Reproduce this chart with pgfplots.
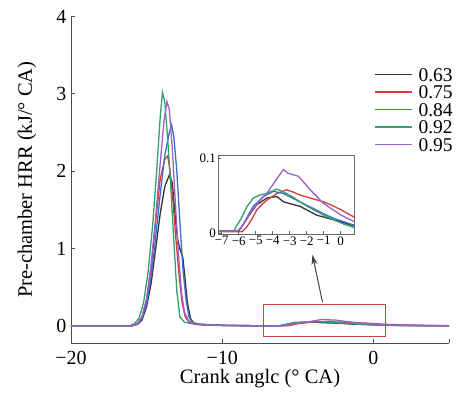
\documentclass[border=0pt]{standalone}
\usepackage{fontspec}
\setmainfont{Liberation Serif}
\usepackage{pgfplots}
\pgfplotsset{compat=1.18}
\usepackage{pgfplotstable}
\usetikzlibrary{arrows.meta}
\definecolor{cBlack}{HTML}{333333}
\definecolor{cRed}{HTML}{D93A3A}
\definecolor{cBlue}{HTML}{3D6EC9}
\definecolor{cGreen}{HTML}{33A070}
\definecolor{cPurple}{HTML}{9A62C9}
\definecolor{cBox}{HTML}{C8413F}

\pgfplotstableread{
x y
-20 0
-16.2 0
-15.9 0.005
-15.6 0.02
-15.3 0.08
-15.0 0.25
-14.7 0.55
-14.4 1.0
-14.1 1.45
-13.8 1.8
-13.5 1.95
-13.3 1.85
-13.1 1.4
-12.95 1.12
-12.8 1.0
-12.6 0.88
-12.45 0.6
-12.3 0.3
-12.1 0.1
-11.9 0.04
-11.5 0.02
-11.0 0.012
-10 0.008
-9 0.005
-8 0.004
-7.2 0.003
-6.0 0.003
-5.7 0.013
-5.3 0.027
-4.94 0.038
-4.35 0.047
-3.76 0.049
-3.37 0.042
-2.9 0.039
-2.4 0.036
-1.9 0.030
-1.4 0.024
-0.9 0.021
-0.43 0.018
0.2 0.014
0.75 0.010
2 0.006
3.5 0.004
5 0.002
}\tblA

\pgfplotstableread{
x y
-20 0
-16.2 0
-15.9 0.005
-15.6 0.03
-15.3 0.12
-15.0 0.35
-14.7 0.75
-14.4 1.35
-14.1 1.9
-13.8 2.15
-13.6 2.2
-13.45 2.0
-13.25 1.6
-13.05 1.1
-12.85 0.65
-12.65 0.3
-12.45 0.12
-12.2 0.05
-11.8 0.02
-11 0.01
-10 0.006
-9 0.004
-8 0.003
-7.2 0.002
-5.8 0.002
-5.5 0.009
-5.2 0.020
-4.94 0.031
-4.6 0.039
-4.35 0.044
-3.76 0.053
-3.18 0.058
-2.8 0.055
-2.4 0.051
-1.8 0.047
-1.0 0.042
-0.5 0.037
0.04 0.031
0.75 0.022
2 0.012
3.5 0.007
5 0.004
}\tblB

\pgfplotstableread{
x y
-20 0
-16.2 0
-15.9 0.004
-15.6 0.03
-15.3 0.1
-15.0 0.3
-14.7 0.65
-14.4 1.15
-14.1 1.7
-13.8 2.2
-13.5 2.5
-13.35 2.6
-13.2 2.45
-13.0 2.0
-12.8 1.35
-12.6 0.75
-12.4 0.35
-12.2 0.12
-12.0 0.05
-11.5 0.02
-11 0.012
-10 0.008
-9 0.005
-8 0.004
-7.2 0.003
-6.0 0.003
-5.7 0.013
-5.4 0.026
-5.14 0.036
-4.55 0.049
-3.96 0.056
-3.37 0.053
-2.6 0.044
-1.6 0.033
-1.0 0.026
-0.43 0.020
0.75 0.011
2 0.007
3.5 0.005
5 0.003
}\tblC

\pgfplotstableread{
x y
-20 0
-16.4 0
-16.1 0.005
-15.8 0.03
-15.5 0.1
-15.2 0.3
-14.9 0.7
-14.6 1.3
-14.35 1.95
-14.1 2.7
-13.95 3.02
-13.8 2.9
-13.6 2.4
-13.4 1.8
-13.2 1.1
-13.0 0.45
-12.8 0.12
-12.5 0.05
-12.0 0.03
-11 0.02
-10 0.012
-9 0.007
-8 0.004
-7.2 0.003
-6.3 0.003
-5.9 0.018
-5.5 0.036
-5.14 0.047
-4.75 0.051
-4.35 0.053
-3.76 0.059
-3.18 0.053
-2.8 0.048
-2.4 0.042
-1.9 0.035
-1.4 0.029
-0.9 0.023
-0.43 0.018
0.2 0.012
0.75 0.008
2 0.005
3.5 0.003
5 0.002
}\tblD

\pgfplotstableread{
x y
-20 0
-16.2 0
-15.9 0.005
-15.6 0.03
-15.3 0.12
-15.0 0.35
-14.7 0.8
-14.4 1.4
-14.1 2.1
-13.85 2.65
-13.65 2.9
-13.5 2.8
-13.3 2.3
-13.1 1.6
-12.9 0.95
-12.7 0.45
-12.5 0.18
-12.2 0.06
-11.8 0.03
-11 0.015
-10 0.008
-9 0.005
-8 0.004
-7.2 0.003
-6.1 0.003
-5.8 0.009
-5.33 0.027
-4.75 0.044
-4.35 0.053
-3.9 0.068
-3.37 0.085
-3.1 0.080
-2.78 0.078
-2.49 0.076
-2.1 0.066
-1.8 0.058
-1.4 0.049
-1.02 0.040
-0.5 0.032
0.04 0.024
0.75 0.016
2 0.010
3.5 0.006
5 0.004
}\tblE

\begin{document}
\begin{tikzpicture}
\path[use as bounding box] (-71pt,-50pt) rectangle (390pt,343pt);
\begin{axis}[
  at={(0pt,0pt)}, anchor=south west,
  scale only axis, width=378pt, height=326.5pt,
  xmin=-20, xmax=5, ymin=-0.22, ymax=4,
  axis x line*=bottom, axis y line*=left,
  axis line style={draw=black!70, line width=0.8pt},
  tick style={draw=black!70, line width=0.8pt},
  tick align=inside, major tick length=4pt,
  xtick={-20,-10,0,5}, xticklabels={−20,−10,0,{}},
  ytick={0,1,2,3,4}, yticklabels={0,1,2,3,4},
  ticklabel style={font=\fontsize{20}{20}\selectfont},
  xticklabel style={yshift=-5pt},
  yticklabel style={xshift=-1pt},
  xlabel={Crank anglc (° CA)},
  ylabel={Pre-chamber HRR (kJ/° CA)},
  label style={font=\fontsize{20.5}{20.5}\selectfont},
  x label style={at={(axis description cs:0.5,0)}, anchor=center, yshift=-35.5pt},
  y label style={at={(axis description cs:-0.1164,0.5)}, anchor=center},
  legend style={at={(0.803,0.85)}, anchor=north west, draw=none, fill=none,
    font=\fontsize{19.5}{19.5}\selectfont, inner sep=0pt,
    nodes={inner sep=1.5pt, text height=14pt, text depth=0.5pt},
    /tikz/every odd column/.append style={column sep=4pt}},
  legend cell align=left,
  legend image code/.code={\draw[#1, line width=1.3pt] (0pt,0pt) -- (37pt,0pt);},
]
\addplot[cBlack, line width=1.3pt] table[x=x,y=y] {\tblA};
\addlegendentry{0.63}
\addplot[cRed, line width=1.3pt] table[x=x,y=y] {\tblB};
\addlegendentry{0.75}
\addplot[cBlue, line width=1.3pt] table[x=x,y=y] {\tblC};
\addlegendentry{0.84}
\addplot[cGreen, line width=1.3pt] table[x=x,y=y] {\tblD};
\addlegendentry{0.92}
\addplot[cPurple, line width=1.3pt] table[x=x,y=y] {\tblE};
\addlegendentry{0.95}
\draw[cBox, line width=1pt] (axis cs:-7.3,-0.14) rectangle (axis cs:0.77,0.28);
\draw[black!75, line width=1pt, -{Stealth[length=10pt,width=6pt]}] (axis cs:-3.37,0.31) -- (axis cs:-4.03,0.92);
\end{axis}
\begin{axis}[
  at={(147.3pt,109pt)}, anchor=south west,
  scale only axis, width=135.7pt, height=78.3pt,
  xmin=-7.2, xmax=0.78, ymin=-0.001, ymax=0.1035,
  axis background/.style={fill=white},
  axis line style={draw=black!60, line width=0.8pt},
  tick style={draw=black!60, line width=0.6pt},
  tick align=inside, major tick length=2.5pt,
  xtick pos=bottom, ytick pos=left,
  xtick={-7,-6,-5,-4,-3,-2,-1,0},
  xticklabels={−7,−6,−5,−4,−3,−2,−1,0},
  ytick={0,0.1}, yticklabels={0,0.1},
  ticklabel style={font=\fontsize{13}{13}\selectfont, inner sep=1.2pt},
  xticklabel style={yshift=-1pt},
  yticklabel style={xshift=-1pt},
]
\addplot[cBlack, line width=1.3pt] table[x=x,y=y] {\tblA};
\addplot[cRed, line width=1.3pt] table[x=x,y=y] {\tblB};
\addplot[cBlue, line width=1.3pt] table[x=x,y=y] {\tblC};
\addplot[cGreen, line width=1.3pt] table[x=x,y=y] {\tblD};
\addplot[cPurple, line width=1.3pt] table[x=x,y=y] {\tblE};
\end{axis}
\end{tikzpicture}
\end{document}
